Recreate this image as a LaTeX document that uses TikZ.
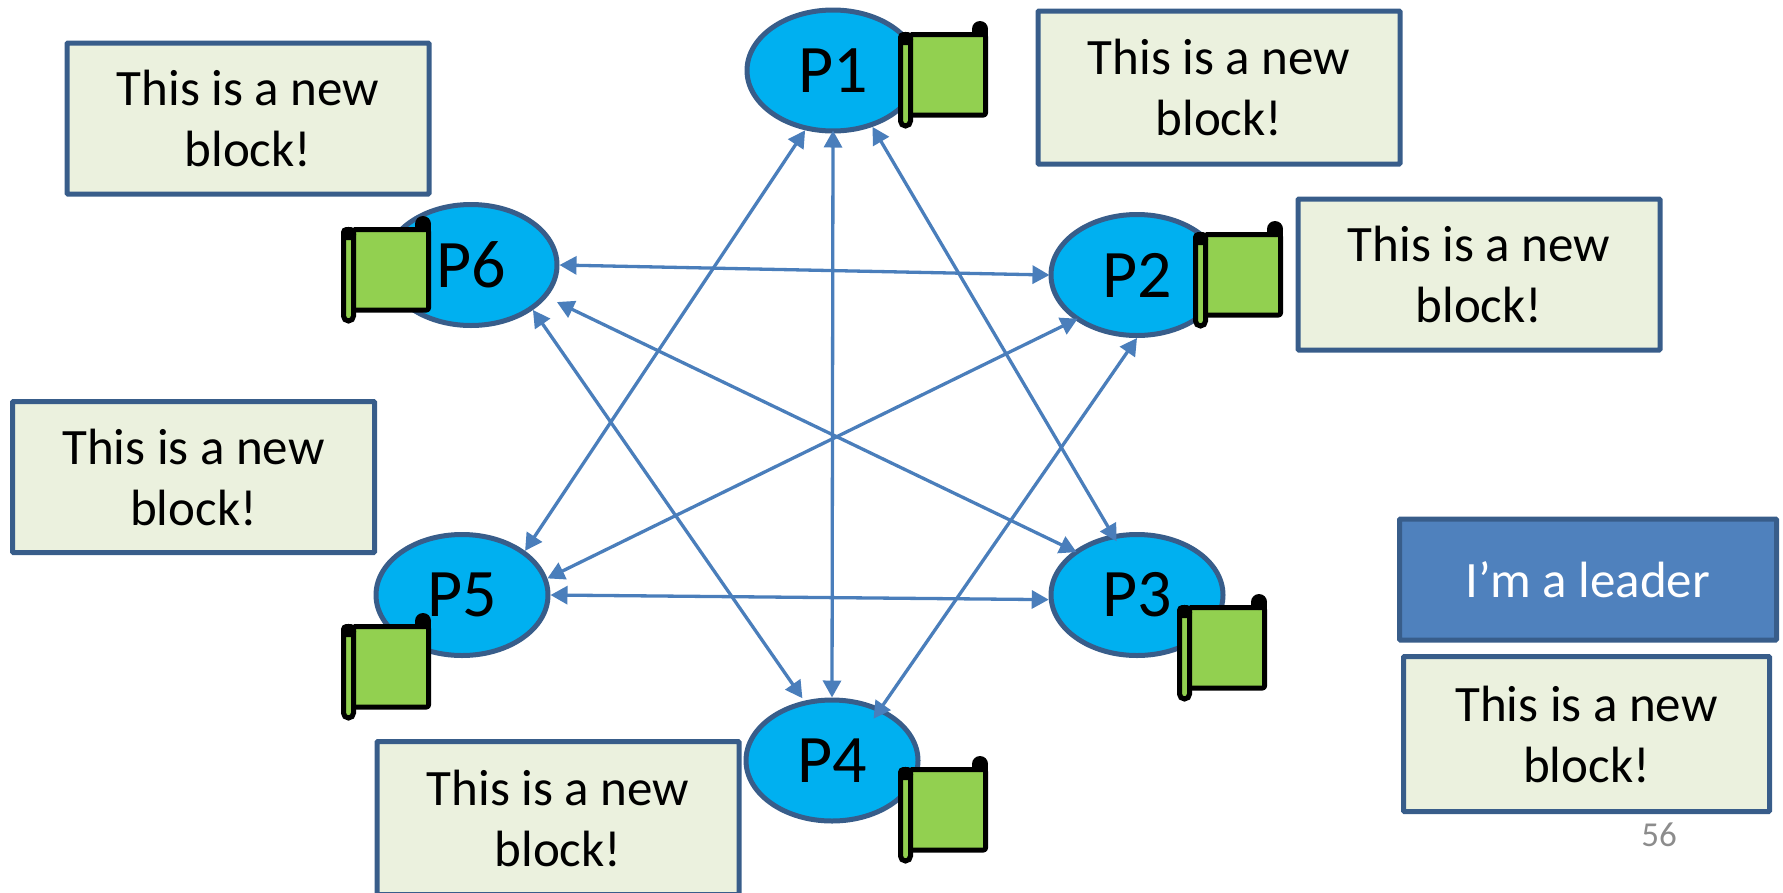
\documentclass[tikz,border=0pt]{standalone}
\usepackage{fontspec}
\setmainfont{Carlito}
\usetikzlibrary{arrows.meta,shapes.geometric}
\definecolor{peerfill}{HTML}{00B0F0}
\definecolor{edgeblue}{HTML}{385D8A}
\definecolor{linkblue}{HTML}{4A7EBB}
\definecolor{boxfill}{HTML}{EBF1DE}
\definecolor{leadfill}{HTML}{4F81BD}
\definecolor{scrollgreen}{HTML}{92D050}
\tikzset{
  peer/.style={ellipse,draw=edgeblue,fill=peerfill,line width=5pt,minimum width=172pt,minimum height=121pt,inner sep=0pt,font=\fontsize{68}{68}\selectfont},
  newblock/.style={rectangle,draw=edgeblue,fill=boxfill,line width=5pt,rounded corners=1pt,minimum width=362pt,minimum height=151pt,inner sep=0pt,align=center,font=\fontsize{51}{61}\selectfont},
  leaderbox/.style={rectangle,draw=edgeblue,fill=leadfill,text=white,line width=5pt,rounded corners=1pt,minimum width=377pt,minimum height=121pt,inner sep=0pt,font=\fontsize{51}{61}\selectfont},
  link/.style={draw=linkblue,line width=3.3pt,{Triangle[length=17pt,width=18pt]}-{Triangle[length=17pt,width=18pt]}},
  flagscroll/.pic={
    \draw[black,fill=scrollgreen,line width=5pt,line join=round,rounded corners=2pt] (12.5,2.5) -- (87.5,2.5) -- (87.5,83) -- (12.5,83);
    \draw[black,fill=scrollgreen,line width=5pt,rounded corners=5pt] (2.5,2.5) rectangle (12.5,94);
    \fill[black,rounded corners=5pt] (0,0) rectangle (15,13);
    \fill[black] (82,-3) circle (8);
    \fill[black] (74,-3) rectangle (90,5);
  }
}
\begin{document}
\begin{tikzpicture}[x=1pt,y=-1pt]
\useasboundingbox (0,0) rectangle (1783,892);
\clip (0,0) rectangle (1783,892);
\node[peer] (P1) at (833,70.5) {P1};
\node[peer] (P2) at (1137,275) {P2};
\node[peer] (P3) at (1137,595) {P3};
\node[peer] (P4) at (832,760.5) {P4};
\node[peer] (P5) at (462,595) {P5};
\node[peer] (P6) at (471,265) {P6};
\pic at (898,32) {flagscroll};
\pic at (1193,232) {flagscroll};
\pic at (1177,605) {flagscroll};
\pic at (898,767) {flagscroll};
\pic at (341,624) {flagscroll};
\pic at (341,227) {flagscroll};
\node[newblock] at (248,118.5) (b1) {This is a new\\block!};
\node[newblock,minimum height=153pt] at (1219,87.5) (b2) {This is a new\\block!};
\node[newblock] at (1479,274.5) (b3) {This is a new\\block!};
\node[newblock] at (193.5,477) (b4) {This is a new\\block!};
\node[newblock,minimum height=153pt] at (558,818) (b5) {This is a new\\block!};
\node[newblock,minimum width=366pt,minimum height=155pt] at (1586.5,734) (b6) {This is a new\\block!};
\node[leaderbox] at (1588,579.5) (lead) {I’m a leader};
\node[text=black!45,font=\fontsize{35}{35}\selectfont,inner sep=0pt] at (1659,835) (num) {56};
\draw[link] (P1.-115) -- (P5.35);
\draw[link,shorten <=-3pt] (P1.-90) -- (P4.90);
\draw[link,shorten >=-8pt] (P1.-55) -- (P3.112);
\draw[link,shorten >=-1pt] (P6.0) -- (P2.180);
\draw[link,shorten <=11pt,shorten >=-3pt] (P6.-23) -- (P3.145);
\draw[link,shorten >=3pt] (P6.-36) -- (P4.115);
\draw[link,shorten <=-3pt] (P2.-144) -- (P5.11);
\draw[link,shorten >=-13pt] (P2.-90) -- (P4.47);
\draw[link] (P5.0) -- (P3.183);
\end{tikzpicture}
\end{document}
